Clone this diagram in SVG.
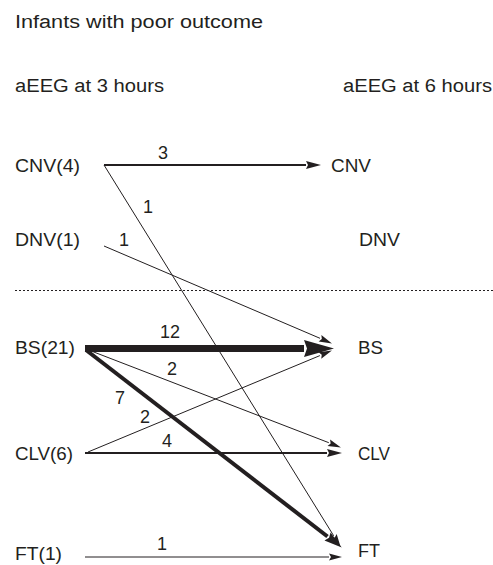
<svg xmlns="http://www.w3.org/2000/svg" width="493" height="565" viewBox="0 0 493 565">
<style>
text{font-family:"Liberation Sans",Arial,Helvetica,sans-serif;font-size:18px;fill:#231f20}
.c{fill:none;stroke:#231f20}
.w1{stroke-width:1}
.w2{stroke-width:2}
.w4{stroke-width:4}
.w7{stroke-width:7}
.ah{fill:#231f20}
</style>
<defs>
<marker id="a-thin" markerUnits="userSpaceOnUse" markerWidth="14" markerHeight="8" refX="0" refY="3.5" orient="auto" overflow="visible"><path class="ah" d="M0,0 L13,3.5 L0,7 L2,3.5 z"/></marker>
<marker id="a-med" markerUnits="userSpaceOnUse" markerWidth="16" markerHeight="9" refX="0" refY="4" orient="auto" overflow="visible"><path class="ah" d="M0,0 L15,4 L0,8 L2,4 z"/></marker>
<marker id="a-thick" markerUnits="userSpaceOnUse" markerWidth="19" markerHeight="11" refX="0" refY="5" orient="auto" overflow="visible"><path class="ah" d="M0,0 L18,5 L0,10 L2,5 z"/></marker>
<marker id="a-big" markerUnits="userSpaceOnUse" markerWidth="31" markerHeight="18" refX="0" refY="8.5" orient="auto" overflow="visible"><path class="ah" d="M0,0 L30,8.5 L0,17 L3,8.5 z"/></marker>
</defs>

<text x="15" y="28" textLength="248" lengthAdjust="spacingAndGlyphs">Infants with poor outcome</text>
<text x="15" y="92" textLength="149" lengthAdjust="spacingAndGlyphs">aEEG at 3 hours</text>
<text x="343" y="92" textLength="149" lengthAdjust="spacingAndGlyphs">aEEG at 6 hours</text>

<line x1="15" y1="290.5" x2="493" y2="290.5" stroke="#231f20" stroke-width="1" stroke-dasharray="2,2"/>

<g id="connectors">
<path class="c w2" d="M104,165 L306,165" marker-end="url(#a-med)"/>
<path class="c w1" d="M104,165 L333.7,535.8" marker-end="url(#a-thin)"/>
<path class="c w1" d="M104,246 L320,338.3" marker-end="url(#a-thin)"/>
<path class="c w7" d="M85,348.5 L304,348.5" marker-end="url(#a-big)"/>
<path class="c w1" d="M86,349 L328.8,442.7" marker-end="url(#a-thin)"/>
<path class="c w4" d="M86,350 L327.5,536.5" marker-end="url(#a-thick)"/>
<path class="c w1" d="M88,452 L319.9,355.6" marker-end="url(#a-thin)"/>
<path class="c w2" d="M85,453 L327,453" marker-end="url(#a-med)"/>
<path class="c w1" d="M85,557 L329,557" marker-end="url(#a-thin)"/>
<g id="edge-labels">
<text x="158" y="159">3</text>
<text x="143" y="213">1</text>
<text x="119" y="246">1</text>
<text x="160" y="338">12</text>
<text x="167" y="375">2</text>
<text x="115" y="404">7</text>
<text x="140" y="423">2</text>
<text x="162" y="447">4</text>
<text x="157" y="550">1</text>
</g>
</g>

<g id="src-CNV"><text x="15" y="172" textLength="65" lengthAdjust="spacingAndGlyphs">CNV(4)</text></g>
<g id="src-DNV"><text x="15" y="246" textLength="65" lengthAdjust="spacingAndGlyphs">DNV(1)</text></g>
<g id="src-BS"><text x="15" y="354" textLength="60" lengthAdjust="spacingAndGlyphs">BS(21)</text></g>
<g id="src-CLV"><text x="15" y="460" textLength="58" lengthAdjust="spacingAndGlyphs">CLV(6)</text></g>
<g id="src-FT"><text x="15" y="560" textLength="47" lengthAdjust="spacingAndGlyphs">FT(1)</text></g>

<g id="dst-CNV"><text x="331" y="172" textLength="40" lengthAdjust="spacingAndGlyphs">CNV</text></g>
<g id="dst-DNV"><text x="359" y="246" textLength="41" lengthAdjust="spacingAndGlyphs">DNV</text></g>
<g id="dst-BS"><text x="358" y="354" textLength="25" lengthAdjust="spacingAndGlyphs">BS</text></g>
<g id="dst-CLV"><text x="358" y="460" textLength="32" lengthAdjust="spacingAndGlyphs">CLV</text></g>
<g id="dst-FT"><text x="358" y="557" textLength="22" lengthAdjust="spacingAndGlyphs">FT</text></g>
</svg>
